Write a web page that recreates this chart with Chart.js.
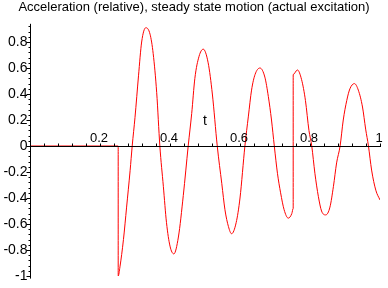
<!DOCTYPE html>
<html>
<head>
<meta charset="utf-8">
<script src="https://cdn.jsdelivr.net/npm/chart.js@4.4.1/dist/chart.umd.min.js"></script>
<style>
html, body { margin: 0; padding: 0; background: #fff; }
canvas { display: block; }
</style>
</head>
<body>
<canvas id="accel-chart" width="388" height="288"></canvas>
<script>
// values
const tValues = [
    0, 0.252, 0.252, 0.257, 0.267, 0.276, 0.286, 0.292, 0.300, 0.310,
    0.319, 0.331, 0.343, 0.352, 0.362, 0.371, 0.381, 0.390, 0.400, 0.411,
    0.424, 0.438, 0.452, 0.462, 0.471, 0.483, 0.495, 0.509, 0.521, 0.535,
    0.548, 0.557, 0.567, 0.576, 0.589, 0.600, 0.614, 0.624, 0.633, 0.643,
    0.657, 0.671, 0.681, 0.690, 0.698, 0.707, 0.716, 0.726, 0.738, 0.748,
    0.752, 0.752, 0.764, 0.776, 0.787, 0.797, 0.805, 0.814, 0.824, 0.833,
    0.845, 0.857, 0.867, 0.876, 0.886, 0.895, 0.905, 0.914, 0.927, 0.938,
    0.950, 0.959, 0.967, 0.976, 0.988, 1.0
];
const accValues = [
    0, 0, -1.0, -0.93, -0.72, -0.47, -0.19, 0, 0.22, 0.54,
    0.80, 0.91, 0.86, 0.71, 0.41, 0, -0.31, -0.59, -0.77, -0.83,
    -0.70, -0.38, 0, 0.25, 0.52, 0.69, 0.745, 0.64, 0.40, 0,
    -0.29, -0.49, -0.62, -0.675, -0.59, -0.40, 0, 0.23, 0.43, 0.55,
    0.60, 0.53, 0.38, 0.20, 0, -0.21, -0.36, -0.49, -0.555, -0.52,
    -0.48, 0.55, 0.585, 0.51, 0.35, 0.12, 0, -0.21, -0.39, -0.50,
    -0.53, -0.47, -0.31, -0.13, 0, 0.20, 0.35, 0.44, 0.48, 0.43,
    0.30, 0.13, 0, -0.185, -0.34, -0.415
];
const xTickLabels = ['0.2', '0.4', '0.6', '0.8', '1'];
const yTickLabels = ['-1', '-0.8', '-0.6', '-0.4', '-0.2', '0', '0.2', '0.4', '0.6', '0.8'];
const titleText = 'Acceleration (relative), steady state motion (actual excitation)';
const xAxisTitle = 't';

const FONT = '"Liberation Sans", Arial, sans-serif';

// Maple style axes crossing at the origin, drawn on top of the curve
const mapleAxes = {
    id: 'mapleAxes',
    afterDatasetsDraw(chart) {
        const ctx = chart.ctx;
        const xs = chart.scales.x;
        const ys = chart.scales.y;
        const x0 = Math.round(xs.getPixelForValue(0)) + 0.5;
        const y0 = Math.round(ys.getPixelForValue(0)) + 0.5;

        ctx.save();
        ctx.strokeStyle = '#000';
        ctx.lineWidth = 1;
        ctx.beginPath();
        ctx.moveTo(x0, y0);
        ctx.lineTo(xs.right + 1, y0);
        ctx.moveTo(x0, ys.top);
        ctx.lineTo(x0, ys.bottom);

        // x ticks every 0.04
        for (let i = 1; i <= 25; i++) {
            const px = Math.round(xs.getPixelForValue(i * 0.04)) + 0.5;
            ctx.moveTo(px, y0);
            ctx.lineTo(px, y0 - 3);
        }
        // y ticks every 0.04, longer at labelled values
        for (let i = -25; i <= 23; i++) {
            const py = Math.round(ys.getPixelForValue(i * 0.04)) + 0.5;
            const len = i % 5 === 0 ? 4 : 2;
            ctx.moveTo(x0, py);
            ctx.lineTo(x0 - len, py);
        }
        ctx.stroke();

        ctx.fillStyle = '#000';
        ctx.font = '13px ' + FONT;
        ctx.textAlign = 'center';
        ctx.textBaseline = 'alphabetic';
        xTickLabels.forEach(lbl => {
            const px = xs.getPixelForValue(parseFloat(lbl));
            ctx.fillText(lbl, px - 1, y0 - 5);
        });

        ctx.font = '14px ' + FONT;
        ctx.fillText(xAxisTitle, xs.getPixelForValue(0.5), y0 - 22);

        ctx.textAlign = 'right';
        ctx.textBaseline = 'middle';
        yTickLabels.forEach(lbl => {
            const py = ys.getPixelForValue(parseFloat(lbl));
            ctx.fillText(lbl, x0 - 3, py);
        });

        ctx.font = '13px ' + FONT;
        ctx.textAlign = 'center';
        ctx.textBaseline = 'alphabetic';
        ctx.fillText(titleText, chart.width / 2, 11);
        ctx.restore();
    }
};

const ctx = document.getElementById('accel-chart').getContext('2d');

new Chart(ctx, {
    type: 'line',
    data: {
        datasets: [{
            data: tValues.map((t, i) => ({ x: t, y: accValues[i] })),
            borderColor: '#ff0000',
            borderWidth: 1,
            pointRadius: 0,
            fill: false,
            cubicInterpolationMode: 'monotone'
        }]
    },
    options: {
        responsive: false,
        animation: false,
        layout: {
            padding: { left: 30, right: 8, top: 23.8, bottom: 9.4 }
        },
        plugins: {
            legend: { display: false },
            tooltip: { enabled: false }
        },
        scales: {
            x: { type: 'linear', min: 0, max: 1, display: false },
            y: { type: 'linear', min: -1.02, max: 0.94, display: false }
        }
    },
    plugins: [mapleAxes]
});
</script>
</body>
</html>
